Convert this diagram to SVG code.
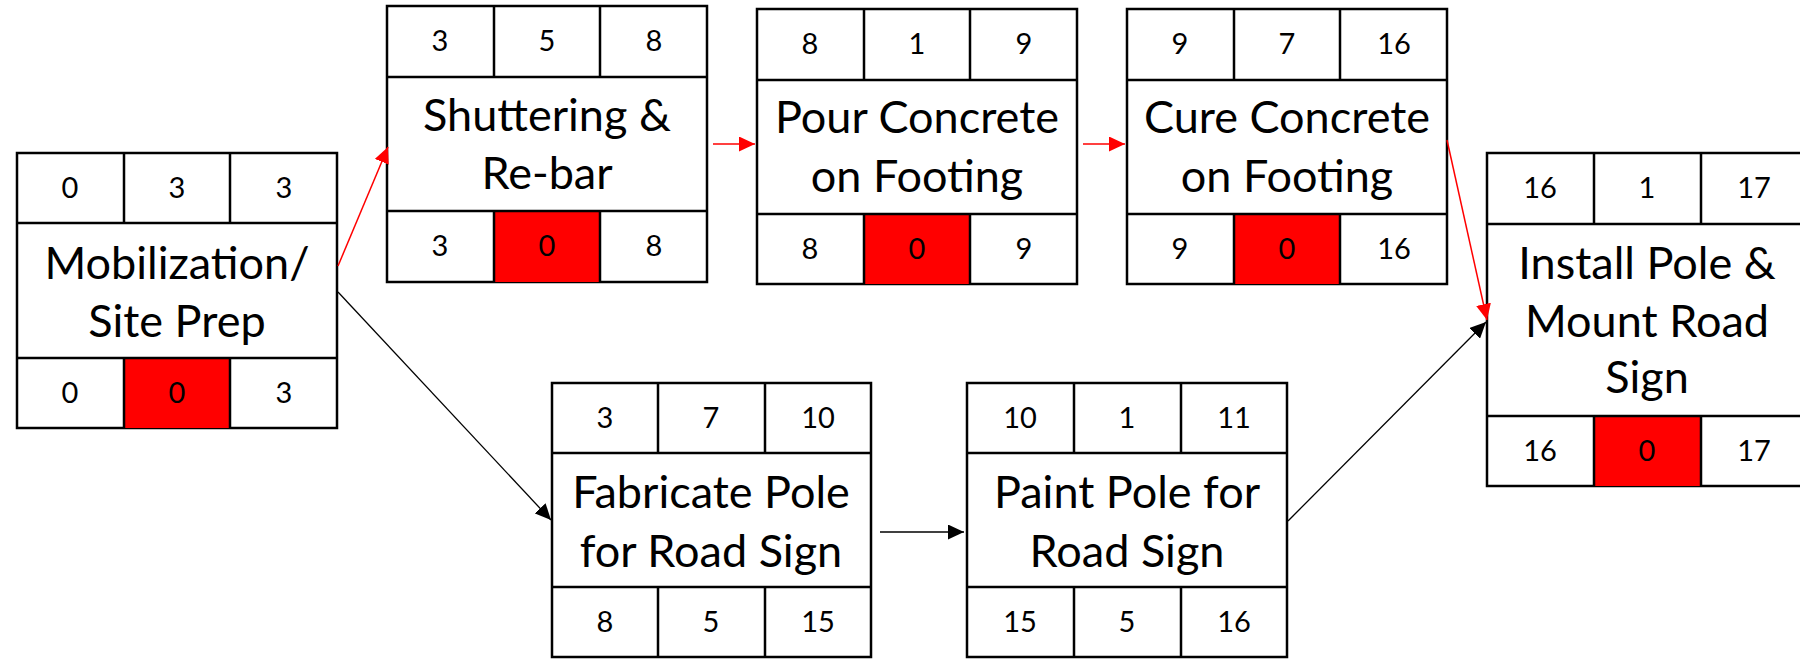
<svg xmlns="http://www.w3.org/2000/svg" width="1800" height="659" viewBox="0 0 1800 659">
<defs>
<style>
.box{fill:#fff;stroke:#000;stroke-width:2.5}
.ln{stroke:#000;stroke-width:2.5;fill:none}
.crit{fill:#ff0000}
.num{font-family:Lato,"Liberation Sans",sans-serif;font-size:29px;fill:#000;text-anchor:middle}
.lbl{font-family:Lato,"Liberation Sans",sans-serif;font-size:45px;fill:#000;text-anchor:middle}
.ar{stroke:#ff0000;stroke-width:1.5;fill:none}
.ab{stroke:#000;stroke-width:1.3;fill:none}
</style>
<marker id="mr" markerUnits="userSpaceOnUse" markerWidth="16" markerHeight="15" refX="16" refY="7.5" orient="auto"><path d="M0,0 L16,7.5 L0,15 z" fill="#ff0000"/></marker>
<marker id="mb" markerUnits="userSpaceOnUse" markerWidth="16" markerHeight="15" refX="16" refY="7.5" orient="auto"><path d="M0,0 L16,7.5 L0,15 z" fill="#000"/></marker>
</defs>
<rect width="1800" height="659" fill="#fff"/>

<g id="node-mobilization">
<rect class="box" x="17" y="153" width="320" height="275"/>
<rect class="crit" x="124" y="358" width="106" height="70"/>
<path class="ln" d="M17,223H337M17,358H337M124,153V223M230,153V223M124,358V428M230,358V428"/>
<text class="num" x="70" y="198">0</text><text class="num" x="177" y="198">3</text><text class="num" x="284" y="198">3</text>
<text class="lbl" x="177" y="279">Mobilization/</text><text class="lbl" x="177" y="337">Site Prep</text>
<text class="num" x="70" y="403">0</text><text class="num" x="177" y="403">0</text><text class="num" x="284" y="403">3</text>
</g>

<g id="node-shuttering">
<rect class="box" x="387" y="6" width="320" height="276"/>
<rect class="crit" x="494" y="211" width="106" height="71"/>
<path class="ln" d="M387,77H707M387,211H707M494,6V77M600,6V77M494,211V282M600,211V282"/>
<text class="num" x="440" y="51">3</text><text class="num" x="547" y="51">5</text><text class="num" x="654" y="51">8</text>
<text class="lbl" x="547" y="131">Shuttering &amp;</text><text class="lbl" x="547" y="189">Re-bar</text>
<text class="num" x="440" y="256">3</text><text class="num" x="547" y="256">0</text><text class="num" x="654" y="256">8</text>
</g>

<g id="node-pour">
<rect class="box" x="757" y="9" width="320" height="275"/>
<rect class="crit" x="864" y="214" width="106" height="70"/>
<path class="ln" d="M757,80H1077M757,214H1077M864,9V80M970,9V80M864,214V284M970,214V284"/>
<text class="num" x="810" y="54">8</text><text class="num" x="917" y="54">1</text><text class="num" x="1024" y="54">9</text>
<text class="lbl" x="917" y="133">Pour Concrete</text><text class="lbl" x="917" y="192">on Footing</text>
<text class="num" x="810" y="259">8</text><text class="num" x="917" y="259">0</text><text class="num" x="1024" y="259">9</text>
</g>

<g id="node-cure">
<rect class="box" x="1127" y="9" width="320" height="275"/>
<rect class="crit" x="1234" y="214" width="106" height="70"/>
<path class="ln" d="M1127,80H1447M1127,214H1447M1234,9V80M1340,9V80M1234,214V284M1340,214V284"/>
<text class="num" x="1180" y="54">9</text><text class="num" x="1287" y="54">7</text><text class="num" x="1394" y="54">16</text>
<text class="lbl" x="1287" y="133">Cure Concrete</text><text class="lbl" x="1287" y="192">on Footing</text>
<text class="num" x="1180" y="259">9</text><text class="num" x="1287" y="259">0</text><text class="num" x="1394" y="259">16</text>
</g>

<g id="node-install">
<rect class="box" x="1487" y="153" width="321" height="333"/>
<rect class="crit" x="1594" y="416" width="107" height="70"/>
<path class="ln" d="M1487,224H1808M1487,416H1808M1594,153V224M1701,153V224M1594,416V486M1701,416V486"/>
<text class="num" x="1540" y="198">16</text><text class="num" x="1647" y="198">1</text><text class="num" x="1754" y="198">17</text>
<text class="lbl" x="1647" y="279">Install Pole &amp;</text><text class="lbl" x="1647" y="337">Mount Road</text><text class="lbl" x="1647" y="393">Sign</text>
<text class="num" x="1540" y="461">16</text><text class="num" x="1647" y="461">0</text><text class="num" x="1754" y="461">17</text>
</g>

<g id="node-fabricate">
<rect class="box" x="552" y="383" width="319" height="274"/>
<path class="ln" d="M552,453H871M552,587H871M658,383V453M765,383V453M658,587V657M765,587V657"/>
<text class="num" x="605" y="428">3</text><text class="num" x="711" y="428">7</text><text class="num" x="818" y="428">10</text>
<text class="lbl" x="711" y="508">Fabricate Pole</text><text class="lbl" x="711" y="567">for Road Sign</text>
<text class="num" x="605" y="632">8</text><text class="num" x="711" y="632">5</text><text class="num" x="818" y="632">15</text>
</g>

<g id="node-paint">
<rect class="box" x="967" y="383" width="320" height="274"/>
<path class="ln" d="M967,453H1287M967,587H1287M1074,383V453M1181,383V453M1074,587V657M1181,587V657"/>
<text class="num" x="1020" y="428">10</text><text class="num" x="1127" y="428">1</text><text class="num" x="1234" y="428">11</text>
<text class="lbl" x="1127" y="508">Paint Pole for</text><text class="lbl" x="1127" y="567">Road Sign</text>
<text class="num" x="1020" y="632">15</text><text class="num" x="1127" y="632">5</text><text class="num" x="1234" y="632">16</text>
</g>

<g id="connectors">
<line class="ar" x1="338" y1="266" x2="388" y2="147" marker-end="url(#mr)"/>
<line class="ar" x1="713" y1="144" x2="755" y2="144" marker-end="url(#mr)"/>
<line class="ar" x1="1083" y1="144" x2="1125" y2="144" marker-end="url(#mr)"/>
<line class="ar" x1="1447" y1="140" x2="1487" y2="320" marker-end="url(#mr)"/>
<line class="ab" x1="338" y1="292" x2="551" y2="520" marker-end="url(#mb)"/>
<line class="ab" x1="880" y1="532" x2="964" y2="532" marker-end="url(#mb)"/>
<line class="ab" x1="1288" y1="521" x2="1486" y2="322" marker-end="url(#mb)"/>
</g>
</svg>
